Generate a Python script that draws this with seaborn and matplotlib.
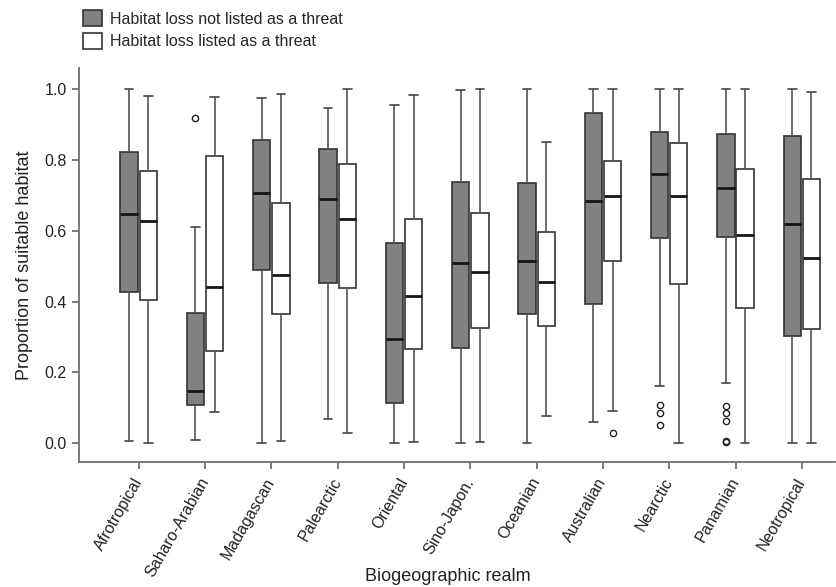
import numpy as np
import pandas as pd
import matplotlib
matplotlib.use("Agg")
import matplotlib.pyplot as plt
import seaborn as sns

# ---------------- data ----------------
realms = ["Afrotropical", "Saharo-Arabian", "Madagascan", "Palearctic", "Oriental",
          "Sino-Japon.", "Oceanian", "Australian", "Nearctic", "Panamian", "Neotropical"]
groups = ["Habitat loss not listed as a threat", "Habitat loss listed as a threat"]

# not listed (grey boxes): whisker low, Q1, median, Q3, whisker high
lo_not  = [0.006, 0.010, 0.002, 0.068, 0.002, 0.002, 0.002, 0.059, 0.163, 0.171, 0.002]
q1_not  = [0.426, 0.109, 0.488, 0.452, 0.114, 0.268, 0.365, 0.394, 0.579, 0.581, 0.302]
med_not = [0.647, 0.147, 0.707, 0.690, 0.295, 0.510, 0.514, 0.684, 0.759, 0.721, 0.619]
q3_not  = [0.821, 0.369, 0.855, 0.830, 0.564, 0.737, 0.734, 0.931, 0.879, 0.872, 0.868]
hi_not  = [1.000, 0.611, 0.975, 0.947, 0.954, 0.998, 1.000, 1.000, 1.000, 1.000, 1.000]
out_not = {"Saharo-Arabian": [0.917],
           "Nearctic": [0.108, 0.086, 0.051],
           "Panamian": [0.105, 0.085, 0.063, 0.006, 0.003]}

# listed (white boxes)
lo_lis  = [0.002, 0.088, 0.006, 0.028, 0.004, 0.004, 0.077, 0.090, 0.002, 0.002, 0.002]
q1_lis  = [0.404, 0.260, 0.364, 0.439, 0.265, 0.325, 0.330, 0.514, 0.449, 0.383, 0.324]
med_lis = [0.628, 0.441, 0.476, 0.633, 0.417, 0.483, 0.454, 0.699, 0.699, 0.589, 0.523]
q3_lis  = [0.768, 0.812, 0.677, 0.789, 0.632, 0.651, 0.597, 0.798, 0.847, 0.775, 0.745]
hi_lis  = [0.981, 0.978, 0.987, 0.999, 0.982, 1.000, 0.851, 1.000, 1.000, 1.000, 0.992]
out_lis = {"Australian": [0.030]}


def box_sample(lo, q1, med, q3, hi, outliers):
    """Values whose quartiles / Tukey whiskers / fliers reproduce the read summary."""
    below = sorted(o for o in outliers if o < q1) + [lo]
    above = [hi] + sorted(o for o in outliers if o > q3)
    m = max(len(below), len(above))
    return (below + [q1] * (m - len(below) + 1) + [med] * m
            + [q3] * (2 * m - len(above)) + above)


rows = []
for grp, lo, q1, md, q3, hi, outs in [
        (groups[0], lo_not, q1_not, med_not, q3_not, hi_not, out_not),
        (groups[1], lo_lis, q1_lis, med_lis, q3_lis, hi_lis, out_lis)]:
    for i, r in enumerate(realms):
        for v in box_sample(lo[i], q1[i], md[i], q3[i], hi[i], outs.get(r, [])):
            rows.append({"realm": r, "group": grp, "value": v})
df = pd.DataFrame(rows)

# ---------------- style ----------------
sns.set_theme(style="ticks")
plt.rcParams["font.family"] = ["Liberation Sans", "DejaVu Sans"]

fig = plt.figure(figsize=(8.37, 5.87), dpi=100)
ax = fig.add_axes([0.0944, 0.2124, 0.9032, 0.6723])

palette = {groups[0]: "#808185", groups[1]: "#ffffff"}

sns.boxplot(data=df, x="realm", y="value", hue="group", order=realms,
            hue_order=groups, palette=palette, width=0.58, gap=0.1,
            linecolor="#333333", linewidth=1.2, whis=1.5, ax=ax,
            medianprops=dict(color="#151515", linewidth=2.0),
            whiskerprops=dict(color="#555555", linewidth=1.2),
            capprops=dict(color="#444444", linewidth=1.2),
            flierprops=dict(marker="o", markerfacecolor="none",
                            markeredgecolor="#222222", markersize=4.5,
                            markeredgewidth=1.0))

ax.set_xlim(-0.9, 10.5)
ax.set_ylim(-0.0536, 1.06)
ax.set_yticks([0.0, 0.2, 0.4, 0.6, 0.8, 1.0])
ax.set_yticklabels(["0.0", "0.2", "0.4", "0.6", "0.8", "1.0"], fontsize=11.5)
ax.set_xticks(range(len(realms)))
ax.set_xticklabels(realms, rotation=60, ha="right", va="center",
                   rotation_mode="anchor", fontsize=11.5)

for s in ["top", "right"]:
    ax.spines[s].set_visible(False)
for s in ["left", "bottom"]:
    ax.spines[s].set_color("#7a7a7a")
    ax.spines[s].set_linewidth(1.4)
ax.tick_params(axis="both", direction="out", length=5, width=1.1,
               color="#555555", labelcolor="#222222", pad=4)
ax.tick_params(axis="x", pad=7)

ax.set_ylabel("Proportion of suitable habitat", fontsize=13, color="#222222",
              labelpad=8)
ax.set_xlabel("Biogeographic realm", fontsize=13, color="#222222")
ax.xaxis.set_label_coords(0.488, -0.268)

sns.move_legend(ax, "upper left", bbox_to_anchor=(83 / 837, 1 - 10 / 587),
                bbox_transform=fig.transFigure, frameon=False, title=None,
                fontsize=11.5, borderpad=0, borderaxespad=0,
                handlelength=1.2, handleheight=1.2, handletextpad=0.5,
                labelspacing=0.38)

fig.savefig("out.png", dpi=100)
